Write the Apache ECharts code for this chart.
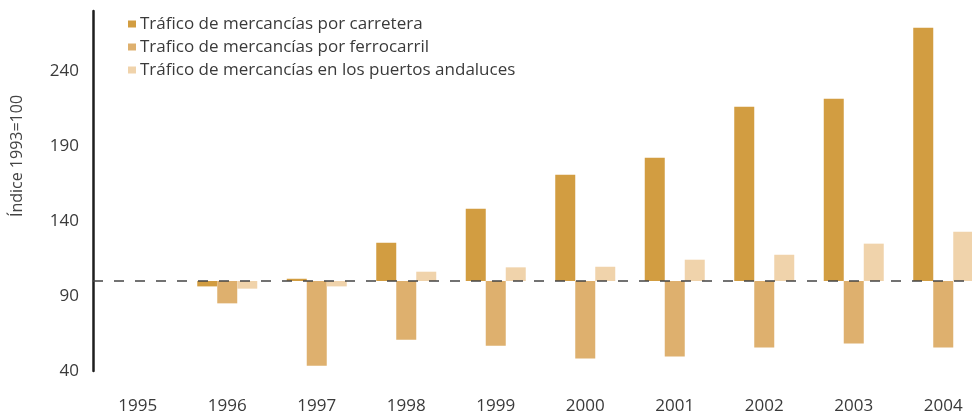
<!DOCTYPE html>
<html>
<head>
<meta charset="utf-8">
<script src="https://cdn.jsdelivr.net/npm/echarts@6/dist/echarts.min.js"></script>
<style>
  html, body { margin: 0; padding: 0; background: #fff; overflow: hidden; }
  /* el grafico original queda cortado por el borde derecho */
  #chart { width: 988px; height: 415px; }
</style>
</head>
<body>
<div id="chart"></div>
<script>
    'use strict';

    // Índice 1993=100
    var years = ['1995', '1996', '1997', '1998', '1999', '2000', '2001', '2002', '2003', '2004'];
    var carretera = [100, 96.4, 101.5, 125.5, 148.2, 170.9, 182.2, 216.2, 221.5, 268.9];
    var ferrocarril = [100, 85.1, 43.5, 60.9, 56.9, 48.4, 49.7, 55.7, 58.4, 55.7];
    var puertos = [100, 94.9, 96.4, 106.2, 109.1, 109.5, 114.2, 117.5, 124.9, 132.9];

    var names = [
        'Tráfico de mercancías por carretera',
        'Trafico de mercancías por ferrocarril',
        'Tráfico de mercancías en los puertos andaluces'
    ];
    var colors = ['#d29d41', '#deb06e', '#f0d3ab'];

    var BASE = 100;   // linea de referencia
    var AXIS_MIN = 40; // el eje empieza en 40

    // las barras salen de 100: una barra invisible hasta min(v,100) y encima |v-100|
    var baseOf = function (arr) {
        return arr.map(function (v) { return Math.min(v, BASE) - AXIS_MIN; });
    };
    var diffOf = function (arr) {
        return arr.map(function (v) { return Math.abs(v - BASE); });
    };

    var font = '"Open Sans", "Noto Sans", sans-serif';
    var series = [];
    [carretera, ferrocarril, puertos].forEach(function (arr, i) {
        series.push({
            name: 'base' + i,
            type: 'bar',
            stack: 's' + i,
            barWidth: 20,
            barGap: '0%',
            silent: true,
            itemStyle: { color: 'rgba(0,0,0,0)' },
            data: baseOf(arr)
        });
        var s = {
            name: names[i],
            type: 'bar',
            stack: 's' + i,
            barWidth: 20,
            barGap: '0%',
            itemStyle: { color: colors[i] },
            data: diffOf(arr)
        };
        if (i === 2) {
            s.markLine = {
                silent: true,
                symbol: 'none',
                label: { show: false },
                lineStyle: { color: '#444', width: 1.5, type: [10, 11] },
                data: [{ yAxis: BASE - AXIS_MIN }]
            };
        }
        series.push(s);
    });

    var chart = echarts.init(document.getElementById('chart'), null, { renderer: 'canvas' });
    chart.setOption({
        animation: false,
        textStyle: { fontFamily: font },
        grid: {
            left: 93,
            right: 0,
            top: 11,
            bottom: 44
        },
        legend: {
            orient: 'vertical',
            left: 123,
            top: 10,
            itemWidth: 8,
            itemHeight: 7,
            itemGap: 5,
            icon: 'rect',
            data: names,
            textStyle: {
                fontFamily: font,
                fontSize: 17,
                color: '#3a3a3a',
                lineHeight: 18,
                padding: [0, 0, 0, -1]
            }
        },
        xAxis: {
            type: 'category',
            data: years,
            axisLine: { show: false },
            axisTick: { show: false },
            axisLabel: {
                fontFamily: font,
                fontSize: 17,
                color: '#3a3a3a',
                margin: 27
            }
        },
        yAxis: {
            type: 'value',
            min: 0,
            max: 240,
            interval: 50,
            splitLine: { show: false },
            axisTick: { show: false },
            axisLine: { show: true, lineStyle: { color: '#1e1e1e', width: 2.5 } },
            axisLabel: {
                fontFamily: font,
                fontSize: 17,
                color: '#3a3a3a',
                margin: 14,
                showMaxLabel: false,
                formatter: function (v) { return v + AXIS_MIN; }
            }
        },
        graphic: [{
            type: 'text',
            x: 17,
            y: 156,
            rotation: Math.PI / 2,
            style: {
                text: 'Índice 1993=100',
                fontFamily: font,
                fontSize: 16,
                fill: '#444',
                align: 'center',
                verticalAlign: 'middle'
            }
        }],
        series: series
    });
</script>
</body>
</html>
